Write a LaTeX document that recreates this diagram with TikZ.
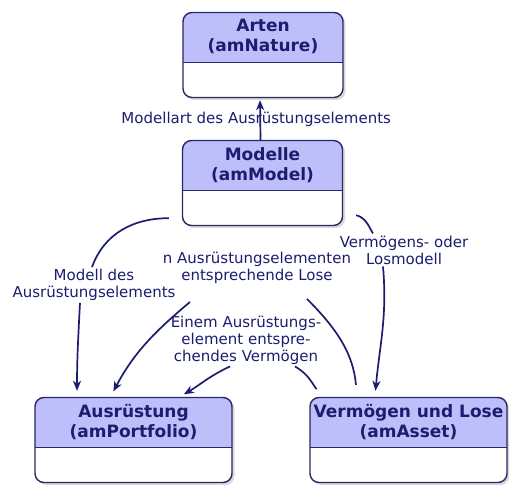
\documentclass[tikz,border=0pt]{standalone}
\usepackage{fontspec}
\setmainfont{DejaVu Sans}
\usetikzlibrary{arrows.meta, shadows, positioning}

\definecolor{inkblue}{RGB}{28,28,112}
\definecolor{boxline}{RGB}{40,40,100}
\definecolor{headfill}{RGB}{190,190,250}

\begin{document}
\begin{tikzpicture}[
    x=1pt, y=1pt,
    entity/.style={draw=boxline, line width=1.4pt, rounded corners=9pt, fill=white,
        minimum height=85pt, inner sep=0pt,
        drop shadow={shadow xshift=2.5pt, shadow yshift=-2.5pt, opacity=0.3},
        path picture={
            \fill[headfill, sharp corners] (path picture bounding box.north west) rectangle ([yshift=-50pt]path picture bounding box.north east);
            \draw[boxline, line width=1.4pt, sharp corners] ([yshift=-50pt]path picture bounding box.north west) -- ([yshift=-50pt]path picture bounding box.north east);
        }},
    title/.style={font=\fontsize{17}{20}\selectfont\bfseries, text=inkblue, align=center},
    lbl/.style={font=\fontsize{15}{17}\selectfont, text=inkblue, align=center, inner sep=2pt},
    link/.style={-{Stealth[length=10pt,width=8pt,inset=3pt]}, line width=1.7pt, draw=inkblue},
    plain/.style={line width=1.7pt, draw=inkblue}
]
\useasboundingbox (0,0) rectangle (509,485);

% tables
\node[entity, minimum width=160pt] (nature) at (263,430) {};
\node[entity, minimum width=160pt] (model) at (262.5,302) {};
\node[entity, minimum width=197pt] (portfolio) at (133.5,45) {};
\node[entity, minimum width=197pt] (asset) at (408.5,45) {};

\node[title] (naturename) at ([yshift=-25pt]nature.north) {Arten\\(amNature)};
\node[title] (modelname) at ([yshift=-25.5pt]model.north) {Modelle\\(amModel)};
\node[title] (portfolioname) at ([yshift=-25pt]portfolio.north) {Ausrüstung\\(amPortfolio)};
\node[title] (assetname) at ([yshift=-25pt]asset.north) {Vermögen und Lose\\(amAsset)};

% link labels
\node[lbl] (lmodel) at (94,200) {Modell des\\Ausrüstungselements};
\node[lbl] (llots) at (257,217) {n Ausrüstungselementen\\entsprechende Lose};
\node[lbl] (lasset) at (246,145) {Einem Ausrüstungs-\\element entspre-\\chendes Vermögen};
\node[lbl] (lassetmodel) at (404,235) {Vermögens- oder\\Losmodell};

% Modelle -> Arten
\draw[link, shorten >=2pt] ([xshift=-2pt]model.north) -- ([xshift=-3pt]nature.south)
    node[lbl, midway, xshift=-4pt] (lnature) {Modellart des Ausrüstungselements};

% Modelle -> Ausrüstung
\draw[plain] ([shift={(-13pt,8pt)}]model.south west) to[out=180, in=70] ([xshift=-2pt]lmodel.north);
\draw[link, shorten >=6pt] ([xshift=-14pt]lmodel.south) to[out=-93, in=90] ([xshift=-56.5pt]portfolio.north);

% Vermögen -> Ausrüstung (Lose)
\draw[plain, shorten <=12pt] ([xshift=-51.5pt]asset.north) to[out=95, in=-45] ([shift={(50pt,-13pt)}]llots.south);
\draw[link, shorten >=6pt] ([shift={(-67pt,-16pt)}]llots.south) to[out=-140, in=62] ([xshift=-23pt]portfolio.north);

% Vermögen -> Ausrüstung (Vermögen)
\draw[plain, shorten <=10pt] ([xshift=-85.5pt]asset.north) to[out=130, in=-30] ([xshift=49pt]lasset.south);
\draw[link, shorten >=5pt] ([xshift=-16pt]lasset.south) to[out=-155, in=30] ([xshift=46pt]portfolio.north);

% Modelle -> Vermögen
\draw[plain] ([shift={(13pt,11pt)}]model.south east) to[out=-15, in=120] ([xshift=-31pt]lassetmodel.north);
\draw[link, shorten >=6pt] ([xshift=-21pt]lassetmodel.south) to[out=-85, in=85] ([xshift=-33.5pt]asset.north);

\end{tikzpicture}
\end{document}
